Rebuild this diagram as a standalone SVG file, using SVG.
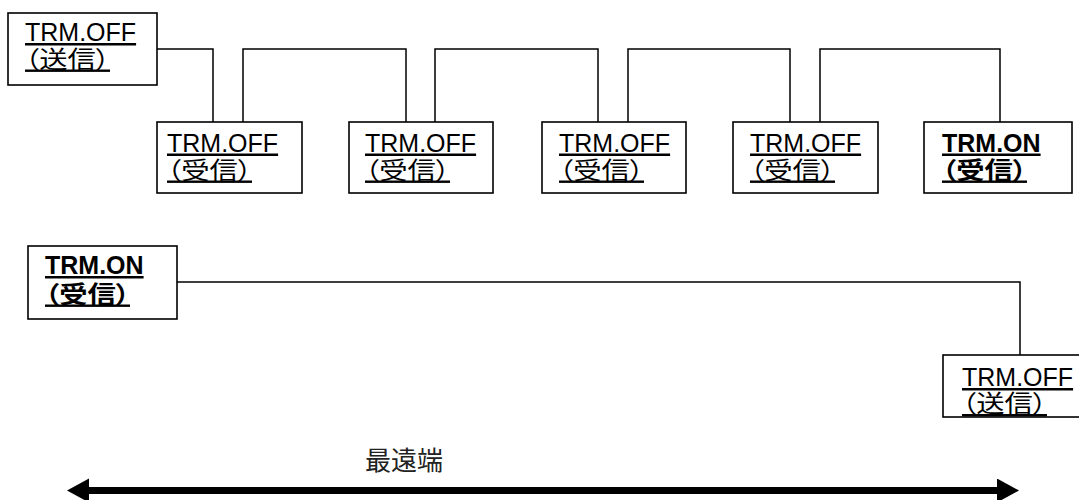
<svg xmlns="http://www.w3.org/2000/svg" width="1079" height="500" viewBox="0 0 1079 500">
<style>
.box{fill:#fff;stroke:#000;stroke-width:1.6}
.t{font-family:"Liberation Sans","Noto Sans CJK JP",sans-serif;font-size:25px;fill:#000;text-decoration:underline;text-decoration-thickness:2.5px}
.j{font-family:"Liberation Sans","Noto Sans CJK JP",sans-serif;font-size:24px;fill:#000;text-decoration:underline;text-decoration-thickness:2.5px;font-feature-settings:"palt"}
.b{font-weight:bold}
.conn{fill:none;stroke:#000;stroke-width:1.5}
.lbl{font-family:"Noto Sans CJK JP",sans-serif;font-size:26px;fill:#222}
</style>
<defs>
<marker id="ah" markerUnits="userSpaceOnUse" markerWidth="24" markerHeight="26" refX="0" refY="12" orient="auto-start-reverse">
<path d="M0,0 L22,12 L0,24 Z" fill="#000"/>
</marker>
</defs>
<g id="connectors">
<path class="conn" d="M157,49 H213 V122 M243,122 V49 H406 V122 M435,122 V49 H598 V122 M628,122 V49 H790 V122 M820,122 V49 H1000 V122"/>
<path class="conn" d="M177,282 H1020 V355"/>
<line x1="89" y1="490.5" x2="997" y2="490.5" stroke="#000" stroke-width="7" marker-start="url(#ah)" marker-end="url(#ah)"/>
</g>
<g id="n1"><rect class="box" x="8" y="13" width="149" height="72"/><text class="t" x="25" y="41">TRM.OFF</text><text class="j" x="25" y="67.5" textLength="85" lengthAdjust="spacingAndGlyphs">（送信）</text></g>
<g id="n2"><rect class="box" x="157" y="122" width="145" height="71"/><text class="t" x="167" y="151.5">TRM.OFF</text><text class="j" x="167" y="178.5" textLength="85" lengthAdjust="spacingAndGlyphs">（受信）</text></g>
<g id="n3"><rect class="box" x="349" y="122" width="144" height="71"/><text class="t" x="365" y="151.5">TRM.OFF</text><text class="j" x="365" y="178.5" textLength="85" lengthAdjust="spacingAndGlyphs">（受信）</text></g>
<g id="n4"><rect class="box" x="542" y="122" width="144" height="71"/><text class="t" x="559" y="151.5">TRM.OFF</text><text class="j" x="559" y="178.5" textLength="85" lengthAdjust="spacingAndGlyphs">（受信）</text></g>
<g id="n5"><rect class="box" x="733" y="122" width="145" height="71"/><text class="t" x="750" y="151.5">TRM.OFF</text><text class="j" x="750" y="178.5" textLength="85" lengthAdjust="spacingAndGlyphs">（受信）</text></g>
<g id="n6"><rect class="box" x="924" y="122" width="148" height="71"/><text class="t b" x="942" y="151.5">TRM.ON</text><text class="j b" x="942" y="178.5" textLength="85" lengthAdjust="spacingAndGlyphs">（受信）</text></g>
<g id="n7"><rect class="box" x="28" y="246" width="149" height="73"/><text class="t b" x="45" y="274">TRM.ON</text><text class="j b" x="45" y="302.5" textLength="85" lengthAdjust="spacingAndGlyphs">（受信）</text></g>
<g id="n8"><rect class="box" x="943" y="355" width="149" height="62"/><text class="t" x="962" y="386">TRM.OFF</text><text class="j" x="962" y="412" textLength="85" lengthAdjust="spacingAndGlyphs">（送信）</text></g>
<g id="label"><text class="lbl" x="365" y="470">最遠端</text></g>
</svg>
